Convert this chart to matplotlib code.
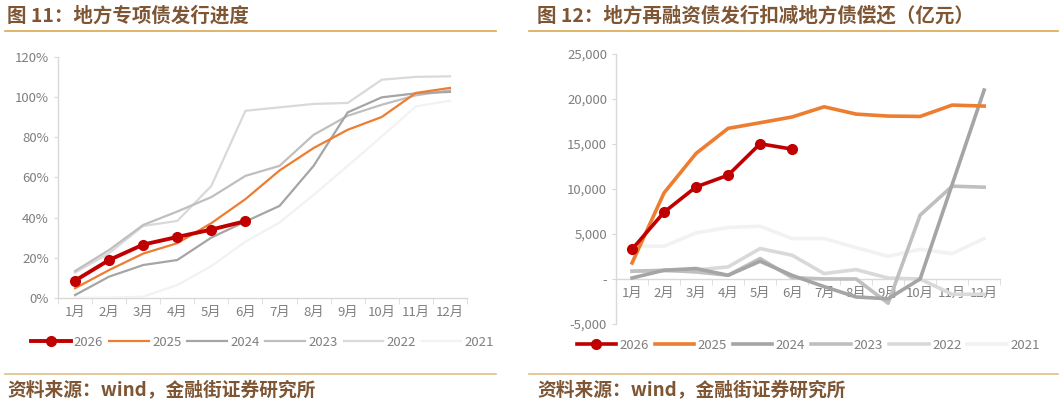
"""Two-panel local government bond chart: special bond progress and refinancing net of repayment."""
import matplotlib.pyplot as plt
from matplotlib.ticker import FuncFormatter

plt.rcParams['font.family'] = ['Noto Sans CJK SC', 'DejaVu Sans']

MONTHS = [f"{m}月" for m in range(1, 13)]
YEARS = ["2026", "2025", "2024", "2023", "2022", "2021"]
COLORS = {"2026": "#C00000", "2025": "#ED7D31", "2024": "#A5A5A5",
          "2023": "#BFBFBF", "2022": "#D9D9D9", "2021": "#F2F2F2"}

# 图 11: 专项债发行进度 (%)
prog_2026 = [8.5, 18.8, 26.5, 30.3, 34.0, 38.2]
prog_2025 = [4.7, 13.8, 22.0, 27.2, 37.2, 49.2, 63.5, 74.7, 83.8, 90.2, 102.2, 104.7]
prog_2024 = [1.3, 10.5, 16.3, 18.8, 30.0, 38.0, 45.8, 65.8, 92.5, 100.0, 102.0, 102.7]
prog_2023 = [13.3, 23.8, 36.3, 43.0, 50.2, 60.8, 65.8, 81.3, 90.8, 96.3, 101.0, 103.5]
prog_2022 = [12.5, 22.2, 35.8, 38.3, 55.8, 93.3, 95.0, 96.7, 97.2, 108.8, 110.2, 110.5]
prog_2021 = [0.0, 0.0, 0.5, 6.3, 15.8, 28.0, 37.5, 51.3, 65.8, 80.5, 95.5, 98.3]

# 图 12: 再融资债发行扣减偿还 (亿元)
net_2026 = [3300, 7420, 10230, 11530, 15020, 14430]
net_2025 = [1780, 9570, 13950, 16730, 17360, 18000, 19130, 18320, 18100, 18060, 19320, 19210]
net_2024 = [110, 970, 1160, 410, 1970, 400, -850, -2000, -2200, 0, 10500, 20990]
net_2023 = [860, 970, 780, 410, 2270, 150, 0, 0, -2700, 7090, 10310, 10200]
net_2022 = [860, 900, 1000, 1340, 3380, 2640, 600, 1040, 100, 0, -1700, -1700]
net_2021 = [3670, 3640, 5120, 5720, 5860, 4490, 4490, 3490, 2520, 3300, 2820, 4490]

PROG = dict(zip(YEARS, [prog_2026, prog_2025, prog_2024, prog_2023, prog_2022, prog_2021]))
NET = dict(zip(YEARS, [net_2026, net_2025, net_2024, net_2023, net_2022, net_2021]))

TITLE_C = "#7E5634"
RULE_C = "#D9A84E"
RULE2_C = "#DDC08A"
TICK_C = "#7F7F7F"
AXIS_C = "#D9D9D9"


def style_axes(ax):
    for s in ("top", "right"):
        ax.spines[s].set_visible(False)
    for s in ("left", "bottom"):
        ax.spines[s].set_color(AXIS_C)
        ax.spines[s].set_linewidth(1.0)
    ax.set_xlim(-0.5, 11.5)
    ax.set_xticks(range(12))
    ax.set_xticklabels(MONTHS)
    ax.set_xticks([i - 0.5 for i in range(13)], minor=True)
    ax.tick_params(axis="x", which="major", length=0, pad=6, labelsize=9.5, labelcolor=TICK_C)
    ax.tick_params(axis="x", which="minor", length=4, color=AXIS_C)
    ax.tick_params(axis="y", length=3, color=AXIS_C, labelsize=9.5, labelcolor=TICK_C)


def add_legend(ax, handles, y):
    leg = ax.legend(handles=handles, labels=YEARS, loc="center", bbox_to_anchor=(0.5, y),
                    ncol=6, frameon=False, fontsize=9.5, handlelength=3.0,
                    handletextpad=0.25, columnspacing=0.45, borderaxespad=0)
    for t in leg.get_texts():
        t.set_color(TICK_C)


fig = plt.figure(figsize=(10.64, 4.07), dpi=100)

# ---- left panel ----
ax1 = fig.add_axes([0.0545, 0.2686, 0.3844, 0.5907])
style_axes(ax1)
handles = []
for yr in YEARS:
    vals = PROG[yr]
    if yr == "2026":
        h, = ax1.plot(range(len(vals)), vals, color=COLORS[yr], lw=2.8, marker="o", ms=7, zorder=10)
    else:
        h, = ax1.plot(range(len(vals)), vals, color=COLORS[yr], lw=1.6, zorder=9 - YEARS.index(yr))
    handles.append(h)
ax1.set_ylim(0, 120)
ax1.set_yticks(range(0, 121, 20))
ax1.yaxis.set_major_formatter(FuncFormatter(lambda v, _: f"{v:.0f}%"))
add_legend(ax1, handles, -0.185)

# ---- right panel ----
ax2 = fig.add_axes([0.579, 0.204, 0.361, 0.6634])
style_axes(ax2)
ax2.spines["bottom"].set_position(("data", 0))
handles = []
for yr in YEARS:
    vals = NET[yr]
    if yr == "2026":
        h, = ax2.plot(range(len(vals)), vals, color=COLORS[yr], lw=2.6, marker="o", ms=7, zorder=10)
    else:
        h, = ax2.plot(range(len(vals)), vals, color=COLORS[yr], lw=2.6, zorder=9 - YEARS.index(yr))
    handles.append(h)
ax2.set_ylim(-5000, 25000)
ax2.set_yticks(range(-5000, 25001, 5000))
ax2.yaxis.set_major_formatter(FuncFormatter(lambda v, _: "-" if v == 0 else f"{v:,.0f}"))
add_legend(ax2, handles, -0.08)

# ---- titles, rules and source notes ----
fig.text(0.007, 0.962, "图 11：地方专项债发行进度", fontsize=14, fontweight="bold",
         color=TITLE_C, va="center")
fig.text(0.505, 0.962, "图 12：地方再融资债发行扣减地方债偿还（亿元）", fontsize=14,
         fontweight="bold", color=TITLE_C, va="center")
fig.add_artist(plt.Line2D([0.005, 0.466], [0.925, 0.925], color=RULE_C, lw=1.2))
fig.add_artist(plt.Line2D([0.497, 0.994], [0.925, 0.925], color=RULE_C, lw=1.2))
fig.add_artist(plt.Line2D([0.005, 0.466], [0.0815, 0.0815], color=RULE2_C, lw=1.2))
fig.add_artist(plt.Line2D([0.497, 0.994], [0.0815, 0.0815], color=RULE2_C, lw=1.2))
fig.text(0.007, 0.04, "资料来源：wind，金融街证券研究所", fontsize=13.5, fontweight="bold",
         color=TITLE_C, va="center")
fig.text(0.505, 0.04, "资料来源：wind，金融街证券研究所", fontsize=13.5, fontweight="bold",
         color=TITLE_C, va="center")

fig.savefig("out.png", dpi=100)
